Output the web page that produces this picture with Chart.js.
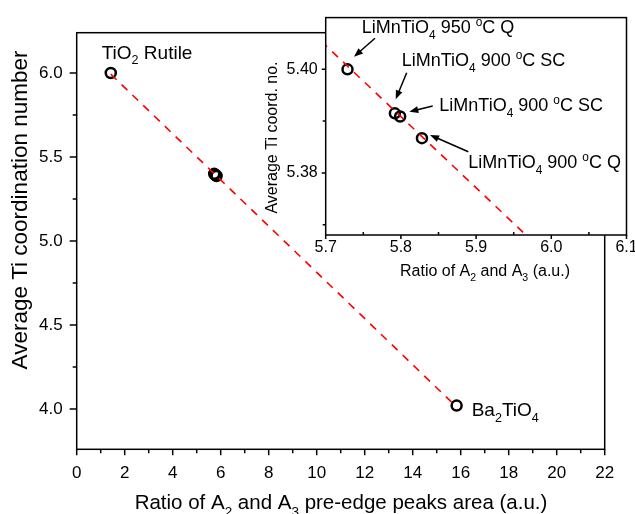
<!DOCTYPE html>
<html>
<head>
<meta charset="utf-8">
<script src="https://cdn.jsdelivr.net/npm/chart.js@4.4.1/dist/chart.umd.min.js"></script>
<style>
  html, body { margin: 0; padding: 0; background: #fff; overflow: hidden; }
  #wrap { position: relative; width: 635px; height: 514px; }
  #main { position: absolute; left: 0; top: 0; }
  #inset { position: absolute; left: 250px; top: 0; }
</style>
</head>
<body>
<div id="wrap">
  <canvas id="main" width="635" height="514"></canvas>
  <canvas id="inset" width="400" height="290"></canvas>
</div>
<script>
// samples: TiO2 rutile, 4x LiMnTiO4, Ba2TiO4
var samples = ["TiO2 Rutile", "LiMnTiO4 950C Q", "LiMnTiO4 900C SC", "LiMnTiO4 900C SC", "LiMnTiO4 900C Q", "Ba2TiO4"];
var ratio = [1.42, 5.729, 5.792, 5.799, 5.828, 15.83];
var coordNo = [6.0, 5.4000, 5.3915, 5.3909, 5.3867, 4.02];

// linear calibration, red dashed
var fitX = [1.42, 15.83];
var fitY = [5.993, 4.012];

// ticks
var mainXMajor = [0, 2, 4, 6, 8, 10, 12, 14, 16, 18, 20, 22];
var mainXMinor = [1, 3, 5, 7, 9, 11, 13, 15, 17, 19, 21];
var mainYMajor = [4.0, 4.5, 5.0, 5.5, 6.0];
var mainYMinor = [4.25, 4.75, 5.25, 5.75];
var insetXMajor = [5.7, 5.8, 5.9, 6.0, 6.1];
var insetXMinor = [5.75, 5.85, 5.95, 6.05];
var insetYMajor = [5.38, 5.40];
var insetYMinor = [5.37, 5.39];

var FONT = 'Arial, "Liberation Sans", sans-serif';
Chart.defaults.font.family = FONT;
Chart.defaults.color = '#000';

function pts(xs, ys) {
  return xs.map(function (x, i) { return { x: x, y: ys[i] }; });
}

// "_2" = subscript, "^o" = superscript
function parts(str) {
  var out = [], buf = '';
  for (var i = 0; i < str.length; i++) {
    var c = str[i];
    if ((c === '_' || c === '^') && i + 1 < str.length) {
      if (buf) out.push([buf, 0]);
      buf = '';
      out.push([str[i + 1], c === '_' ? 1 : -1]);
      i++;
    } else buf += c;
  }
  if (buf) out.push([buf, 0]);
  return out;
}

function richText(ctx, str, x, y, size, align) {
  var p = parts(str), w = 0;
  p.forEach(function (q) {
    ctx.font = (q[1] ? size * 0.66 : size) + 'px ' + FONT;
    q.push(ctx.measureText(q[0]).width);
    w += q[2];
  });
  var cx = align === 'center' ? x - w / 2 : x;
  var base = y + size * 0.36;
  ctx.textAlign = 'left';
  ctx.textBaseline = 'alphabetic';
  p.forEach(function (q) {
    ctx.font = (q[1] ? size * 0.66 : size) + 'px ' + FONT;
    var dy = q[1] === 1 ? size * 0.3 : (q[1] === -1 ? -size * 0.4 : 0);
    ctx.fillText(q[0], cx, base + dy);
    cx += q[2];
  });
}

function arrow(ctx, x1, y1, x2, y2) {
  var ang = Math.atan2(y2 - y1, x2 - x1), h = 9, w = 3.5;
  var c = Math.cos(ang), s = Math.sin(ang);
  ctx.beginPath();
  ctx.moveTo(x1, y1);
  ctx.lineTo(x2 - h * 0.7 * c, y2 - h * 0.7 * s);
  ctx.stroke();
  ctx.beginPath();
  ctx.moveTo(x2, y2);
  ctx.lineTo(x2 - h * c + w * s, y2 - h * s - w * c);
  ctx.lineTo(x2 - h * c - w * s, y2 - h * s + w * c);
  ctx.closePath();
  ctx.fill();
}

var decor = {
  id: 'decor',
  beforeDraw: function (chart, args, o) {
    if (!o.fill) return;
    var a = chart.chartArea, ctx = chart.ctx;
    ctx.save();
    ctx.fillStyle = '#fff';
    ctx.fillRect(a.left, a.top, a.right - a.left, a.bottom - a.top);
    ctx.restore();
  },
  afterDraw: function (chart, args, o) {
    var ctx = chart.ctx, a = chart.chartArea, sx = chart.scales.x, sy = chart.scales.y;
    ctx.save();
    ctx.strokeStyle = '#000';
    ctx.fillStyle = '#000';
    ctx.lineWidth = 1.5;
    ctx.strokeRect(a.left, a.top, a.right - a.left, a.bottom - a.top);
    ctx.beginPath();
    function xt(list, len) {
      list.forEach(function (v) {
        var px = sx.getPixelForValue(v);
        ctx.moveTo(px, a.bottom);
        ctx.lineTo(px, a.bottom + len);
      });
    }
    function yt(list, len) {
      list.forEach(function (v) {
        var py = sy.getPixelForValue(v);
        ctx.moveTo(a.left, py);
        ctx.lineTo(a.left - len, py);
      });
    }
    xt(o.xMajor, o.tx[0]); xt(o.xMinor, o.tx[1]);
    yt(o.yMajor, o.ty[0]); yt(o.yMinor, o.ty[1]);
    ctx.stroke();

    richText(ctx, o.xTitle.text, o.xTitle.x, o.xTitle.y, o.xTitle.size, 'center');
    ctx.save();
    ctx.translate(o.yTitle.x, o.yTitle.y);
    ctx.rotate(-Math.PI / 2);
    richText(ctx, o.yTitle.text, 0, 0, o.yTitle.size, 'center');
    ctx.restore();

    o.notes.forEach(function (n) { richText(ctx, n.text, n.x, n.y, n.size, 'left'); });
    ctx.lineWidth = 1.5;
    o.arrows.forEach(function (r) { arrow(ctx, r[0], r[1], r[2], r[3]); });
    ctx.restore();
  }
};

function axis(min, max, major, minor, digits, size, pad, fit) {
  return {
    type: 'linear',
    min: min,
    max: max,
    afterBuildTicks: function (s) {
      s.ticks = major.concat(minor).sort(function (a, b) { return a - b; })
        .map(function (v) { return { value: v }; });
    },
    afterFit: fit,
    ticks: {
      autoSkip: false,
      maxRotation: 0,
      padding: pad,
      color: '#000',
      font: { size: size },
      callback: function (v) { return major.indexOf(v) >= 0 ? v.toFixed(digits) : ''; }
    },
    grid: { drawOnChartArea: false, drawTicks: false, color: 'rgba(0,0,0,0)' },
    border: { display: false }
  };
}

var lineStyle = {
  borderColor: '#ff0000',
  borderWidth: 1.6,
  borderDash: [8, 7],
  pointRadius: 0,
  showLine: true,
  fill: false
};
var pointStyle = {
  pointStyle: 'circle',
  pointRadius: 5,
  pointBorderWidth: 2.5,
  pointBorderColor: '#000',
  pointBackgroundColor: 'rgba(0,0,0,0)',
  showLine: false
};

new Chart(document.getElementById('main').getContext('2d'), {
  type: 'scatter',
  data: {
    datasets: [
      Object.assign({ label: 'fit', data: pts(fitX, fitY) }, lineStyle),
      Object.assign({ label: 'samples', data: pts(ratio, coordNo) }, pointStyle)
    ]
  },
  options: {
    responsive: false,
    animation: false,
    events: [],
    layout: { padding: { top: 32.7, right: 30.3, left: 0, bottom: 0 } },
    scales: {
      x: axis(0, 22, mainXMajor, mainXMinor, 0, 17, 14, function (s) { s.height = 64.7; }),
      y: axis(3.76, 6.24, mainYMajor, mainYMinor, 1, 17, 14, function (s) { s.width = 76.7; })
    },
    plugins: {
      legend: { display: false },
      tooltip: { enabled: false },
      decor: {
        fill: false,
        xMajor: mainXMajor, xMinor: mainXMinor, yMajor: mainYMajor, yMinor: mainYMinor,
        tx: [6, 4], ty: [7, 4],
        xTitle: { text: 'Ratio of A_2 and A_3 pre-edge peaks area (a.u.)', x: 341, y: 502, size: 20.5 },
        yTitle: { text: 'Average Ti coordination number', x: 19, y: 210, size: 22.5 },
        notes: [
          { text: 'TiO_2 Rutile', x: 101.7, y: 51.7, size: 19 },
          { text: 'Ba_2TiO_4', x: 471.7, y: 409, size: 19 }
        ],
        arrows: []
      }
    }
  },
  plugins: [decor]
});

new Chart(document.getElementById('inset').getContext('2d'), {
  type: 'scatter',
  data: {
    datasets: [
      Object.assign({ label: 'fit', data: pts(fitX, fitY), clip: 0 }, lineStyle),
      Object.assign({ label: 'LiMnTiO4', data: pts(ratio.slice(1, 5), coordNo.slice(1, 5)) }, pointStyle)
    ]
  },
  options: {
    responsive: false,
    animation: false,
    events: [],
    layout: { padding: { top: 13.3, right: 23.5, left: 0, bottom: 0 } },
    scales: {
      x: axis(5.7, 6.1, insetXMajor, insetXMinor, 1, 16, 3, function (s) { s.height = 55; }),
      y: axis(5.368, 5.41, insetYMajor, insetYMinor, 2, 16, 8, function (s) { s.width = 75.7; })
    },
    plugins: {
      legend: { display: false },
      tooltip: { enabled: false },
      decor: {
        fill: true,
        xMajor: insetXMajor, xMinor: insetXMinor, yMajor: insetYMajor, yMinor: insetYMinor,
        tx: [4, -3], ty: [4, 3],
        xTitle: { text: 'Ratio of A_2 and A_3 (a.u.)', x: 235, y: 270, size: 16 },
        yTitle: { text: 'Average Ti coord. no.', x: 21.7, y: 137.5, size: 16 },
        notes: [
          { text: 'LiMnTiO_4 950 ^oC Q', x: 111.7, y: 26.7, size: 18 },
          { text: 'LiMnTiO_4 900 ^oC SC', x: 151.7, y: 60, size: 18 },
          { text: 'LiMnTiO_4 900 ^oC SC', x: 189.3, y: 105, size: 18 },
          { text: 'LiMnTiO_4 900 ^oC Q', x: 218.3, y: 161.7, size: 18 }
        ],
        arrows: [
          [125, 38.3, 104, 56.7],
          [156.7, 72.7, 145.7, 99.3],
          [182.7, 106, 159.3, 111.7],
          [218.3, 151.7, 180, 135]
        ]
      }
    }
  },
  plugins: [decor]
});
</script>
</body>
</html>
